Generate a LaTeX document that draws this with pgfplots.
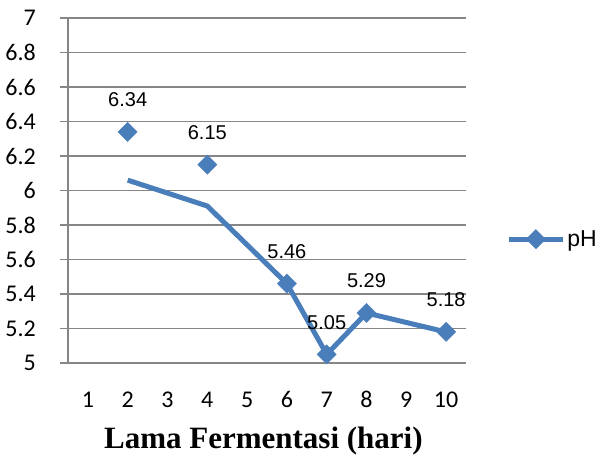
\documentclass[border=0pt]{standalone}
\usepackage{fontspec}
\setmainfont{Liberation Serif}
\newfontfamily\arialf{Liberation Sans}
\newfontfamily\calibrif{Carlito}
\usepackage{pgfplots}
\pgfplotsset{compat=1.18}
\definecolor{serie}{HTML}{4A7EBB}
\definecolor{gridc}{HTML}{868686}

\begin{document}
\begin{tikzpicture}
\useasboundingbox (0,0) rectangle (596pt,456pt);
\begin{axis}[
  at={(68pt,93pt)}, anchor=south west,
  scale only axis, width=398pt, height=345pt,
  xmin=0.5, xmax=10.5, ymin=5, ymax=7,
  xtick={1,2,3,4,5,6,7,8,9,10},
  xticklabels={1,2,3,4,5,6,7,8,9,10},
  ytick={5,5.2,5.4,5.6,5.8,6,6.2,6.4,6.6,6.8,7},
  yticklabels={5,5.2,5.4,5.6,5.8,6,6.2,6.4,6.6,6.8,7},
  /pgf/number format/assume math mode=true,
  axis x line*=bottom, axis y line*=left,
  axis line style={draw=gridc, line width=1.5pt, -},
  ymajorgrids, grid style={draw=gridc, line width=1.5pt},
  x tick style={draw=none},
  y tick style={draw=gridc, line width=1.5pt},
  tick align=outside, major tick length=8pt,
  ticklabel style={font=\calibrif\fontsize{24}{24}\selectfont, inner sep=0pt},
  xticklabel style={anchor=base, yshift=-36pt},
  yticklabel style={anchor=east, xshift=-24pt},
  xlabel={Lama Fermentasi (hari)},
  xlabel style={font=\bfseries\fontsize{31}{31}\selectfont,
    at={(axis description cs:0.491,0)}, anchor=base, yshift=-85pt, inner sep=0pt},
  legend style={at={(1.101,0.359)}, anchor=west, draw=none, fill=none,
    inner sep=0pt, font=\arialf\fontsize{23}{23}\selectfont},
  legend cell align=left,
  legend image code/.code={\draw[#1, mark repeat=2, mark phase=2]
    plot coordinates {(0pt,0pt) (27pt,0pt) (54pt,0pt)};},
  clip=false,
]

% trend line (drawn as in the source chart)
\addplot[serie, line width=5pt, no markers, forget plot] coordinates {
  (2,6.06) (4,5.91) (6,5.46) (7,5.05) (8,5.29) (10,5.18)
};

% measured pH values
\addplot[only marks, mark=square*, mark size=6.8pt,
  mark options={rotate=45, draw=serie, fill=serie},
  point meta=explicit symbolic, nodes near coords,
  nodes near coords style={font=\arialf\fontsize{20}{20}\selectfont,
    text=black, anchor=base, yshift=25pt, inner sep=0pt},
  forget plot] coordinates {
  (2,6.34) [6.34]
  (4,6.15) [6.15]
  (6,5.46) [5.46]
  (7,5.05) [5.05]
  (8,5.29) [5.29]
  (10,5.18) [5.18]
};

\addlegendimage{serie, line width=5pt, mark=square*, mark size=6.8pt,
  mark options={rotate=45, line width=0.5pt, fill=serie}}
\addlegendentry{pH}

\end{axis}
\end{tikzpicture}
\end{document}
